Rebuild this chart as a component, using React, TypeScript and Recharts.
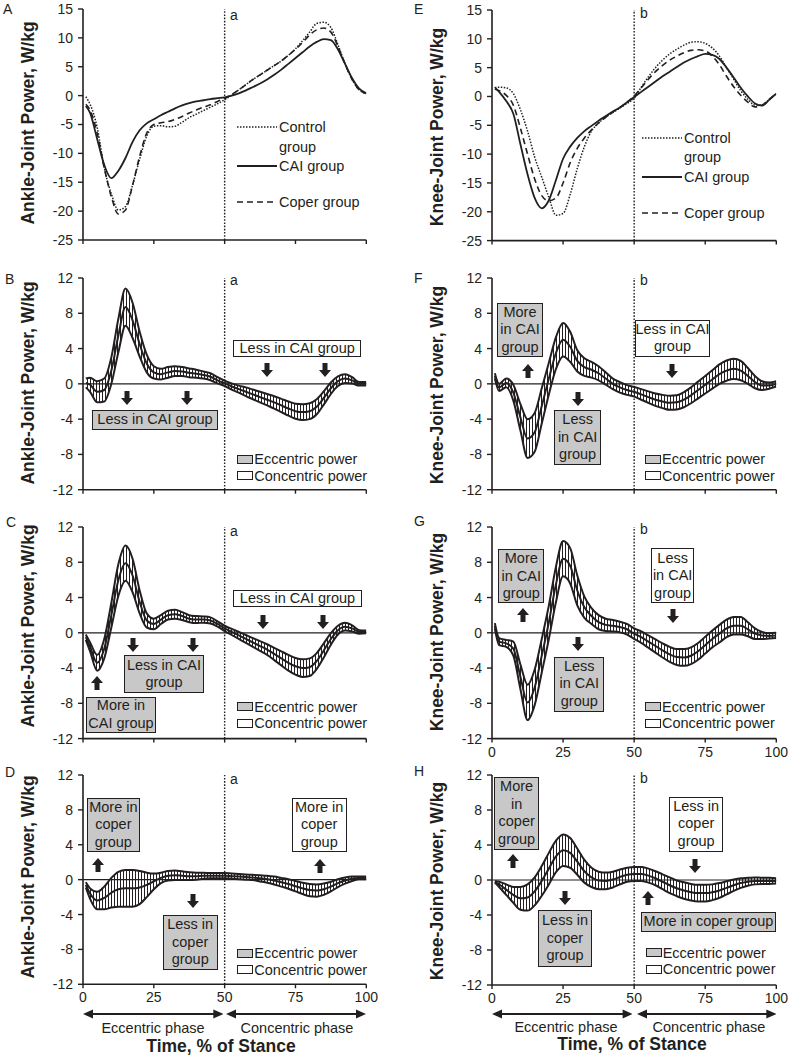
import React from "react"
import { ComposedChart, Line, Area, XAxis, YAxis, ReferenceLine } from "recharts"

// % of stance, shared by every panel
const stance = [1, 2.5, 5, 7.5, 10, 12.5, 15, 17.5, 20, 22.5, 25, 27.5, 30, 32.5, 35, 37.5, 40, 42.5, 45, 47.5, 50, 52.5, 55, 57.5, 60, 62.5, 65, 67.5, 70, 72.5, 75, 77.5, 80, 82.5, 85, 87.5, 90, 92.5, 95, 97.5, 100]
const xTicks = [0, 25, 50, 75, 100]
const wideTicks = [-25, -20, -15, -10, -5, 0, 5, 10, 15]
const diffTicks = [-12, -8, -4, 0, 4, 8, 12]

// A: ankle power by group
const aCtrl = [-0.2, -1.5, -5.5, -12.5, -17, -19.8, -19.2, -15.5, -11, -7, -5.3, -5.2, -5.4, -5.3, -4.6, -3.8, -3.2, -2.6, -2.0, -1.4, -0.7, 0.1, 1.0, 1.9, 2.8, 3.6, 4.4, 5.2, 6.0, 7.0, 8.1, 9.5, 11.0, 12.5, 12.7, 11.8, 8.8, 5.5, 2.8, 1.0, 0.4]
const aCai = [-1.8, -3, -7.5, -12, -14.3, -13, -10.8, -8, -6, -4.8, -4.1, -3.4, -2.8, -2.2, -1.7, -1.3, -1.0, -0.8, -0.6, -0.45, -0.3, 0, 0.4, 0.9, 1.5, 2.1, 2.8, 3.6, 4.5, 5.5, 6.5, 7.5, 8.5, 9.3, 9.8, 9.6, 8.0, 5.5, 3.0, 1.2, 0.4]
const aCoper = [-1.5, -2.5, -6.5, -12.5, -17.5, -20.5, -19.8, -15.5, -10.5, -6.5, -5.0, -4.7, -4.5, -4.1, -3.6, -3.0, -2.5, -2.0, -1.6, -1.0, -0.5, 0.2, 1.0, 1.9, 2.8, 3.6, 4.4, 5.2, 6.0, 7.0, 8.0, 9.2, 10.5, 11.4, 11.7, 11.0, 8.5, 5.5, 2.8, 1.0, 0.4]

// E: knee power by group
const eCtrl = [1.5, 1.6, 1.5, 0.5, -2.3, -6, -10.5, -14, -17.5, -20.6, -20.3, -17, -12.5, -8.7, -6, -4.6, -3.6, -2.8, -2.0, -1.2, -0.3, 1.6, 3.4, 5.0, 6.3, 7.4, 8.2, 8.9, 9.4, 9.5, 9.2, 8.4, 7.0, 5.0, 3.0, 1.0, -0.5, -1.5, -1.5, -0.5, 0.5]
const eCai = [1.6, 0.8, -0.8, -3, -8.3, -13.5, -17.6, -19.4, -18, -14.5, -10.8, -8.7, -7.2, -6.0, -5.1, -4.2, -3.4, -2.6, -1.9, -1.0, -0.1, 0.8, 1.7, 2.6, 3.5, 4.3, 5.1, 5.9, 6.5, 7.0, 7.4, 7.2, 6.5, 5.0, 3.3, 1.5, 0, -1.2, -1.6, -0.6, 0.5]
const eCoper = [1.3, 1.0, 0.2, -1.5, -5.5, -10, -14.3, -17.2, -18.1, -17.6, -15, -11.5, -9, -7.2, -5.8, -4.6, -3.6, -2.7, -1.9, -1.0, 0.1, 1.5, 3.0, 4.3, 5.4, 6.3, 7.0, 7.6, 8.0, 8.1, 7.9, 7.0, 5.5, 3.5, 1.7, 0.2, -1.0, -1.8, -1.5, -0.5, 0.5]

// B-D, F-H: group differences (mean and half band width)
const bMean = [0.1, -0.1, -0.9, -0.7, 1.5, 5.5, 8.7, 7.2, 4.5, 2.3, 1.3, 1.1, 1.3, 1.45, 1.4, 1.25, 1.15, 1.0, 0.8, 0.4, 0.05, -0.3, -0.6, -0.9, -1.2, -1.5, -1.8, -2.1, -2.45, -2.8, -3.1, -3.2, -3.1, -2.6, -1.6, -0.5, 0.3, 0.6, 0.4, 0.0, 0.0]
const bHalf = [0.5, 0.8, 1.2, 1.3, 1.5, 1.9, 2.1, 2.0, 1.4, 1.0, 0.7, 0.6, 0.6, 0.55, 0.5, 0.5, 0.45, 0.4, 0.4, 0.35, 0.3, 0.35, 0.4, 0.5, 0.55, 0.6, 0.65, 0.7, 0.75, 0.8, 0.85, 0.9, 0.9, 0.85, 0.75, 0.65, 0.55, 0.5, 0.35, 0.2, 0.2]
const cMean = [-0.5, -1.6, -3.4, -1.8, 2.0, 6.0, 7.9, 6.5, 3.5, 1.4, 1.0, 1.5, 2.0, 2.1, 1.9, 1.6, 1.5, 1.5, 1.4, 1.0, 0.5, 0.1, -0.3, -0.7, -1.1, -1.5, -1.9, -2.4, -2.9, -3.4, -3.8, -4.0, -3.9, -3.2, -2.0, -0.7, 0.3, 0.7, 0.5, 0.1, 0.1]
const cHalf = [0.3, 0.5, 0.9, 1.1, 1.4, 1.8, 2.0, 1.9, 1.3, 0.8, 0.6, 0.5, 0.5, 0.5, 0.45, 0.4, 0.4, 0.35, 0.35, 0.3, 0.3, 0.35, 0.4, 0.45, 0.5, 0.55, 0.6, 0.7, 0.8, 0.9, 0.95, 1.0, 1.0, 0.9, 0.8, 0.65, 0.5, 0.45, 0.35, 0.2, 0.15]
const dMean = [-0.6, -1.6, -2.4, -2.1, -1.5, -1.1, -1.0, -1.0, -0.9, -0.6, -0.2, 0.2, 0.45, 0.5, 0.45, 0.4, 0.4, 0.45, 0.45, 0.45, 0.45, 0.4, 0.35, 0.3, 0.25, 0.15, 0.05, -0.1, -0.3, -0.5, -0.75, -1.0, -1.2, -1.25, -1.1, -0.8, -0.4, -0.1, 0.1, 0.2, 0.2]
const dHalf = [0.3, 0.6, 1.0, 1.3, 1.7, 2.0, 2.1, 2.1, 1.9, 1.4, 0.9, 0.6, 0.55, 0.55, 0.5, 0.45, 0.4, 0.35, 0.3, 0.3, 0.3, 0.3, 0.3, 0.3, 0.3, 0.35, 0.4, 0.45, 0.5, 0.55, 0.6, 0.65, 0.7, 0.7, 0.65, 0.55, 0.45, 0.35, 0.25, 0.15, 0.15]
const fMean = [0.9, -0.4, 0.1, -1.0, -3.8, -6.2, -5.5, -2.5, 0.6, 3.5, 5.0, 4.2, 2.6, 1.9, 1.6, 1.2, 0.6, 0.0, -0.4, -0.7, -0.9, -1.2, -1.5, -1.8, -2.0, -2.15, -2.1, -1.8, -1.3, -0.7, -0.1, 0.5, 1.1, 1.5, 1.7, 1.5, 0.9, 0.2, -0.2, -0.2, 0.0]
const fHalf = [0.3, 0.4, 0.5, 0.9, 1.5, 2.2, 2.2, 2.0, 1.8, 1.8, 1.9, 1.7, 1.2, 1.0, 0.9, 0.8, 0.7, 0.6, 0.6, 0.55, 0.55, 0.6, 0.65, 0.7, 0.75, 0.8, 0.8, 0.85, 0.9, 0.95, 1.0, 1.05, 1.1, 1.15, 1.15, 1.1, 0.9, 0.7, 0.5, 0.35, 0.3]
const gMean = [0.8, -1.0, -1.2, -1.8, -5.0, -7.9, -6.2, -2.6, 1.2, 5.5, 8.4, 7.6, 4.8, 2.9, 1.9, 1.2, 0.9, 0.8, 0.65, 0.4, -0.1, -0.5, -1.0, -1.5, -2.0, -2.45, -2.75, -2.8, -2.6, -2.1, -1.4, -0.7, -0.1, 0.5, 0.8, 0.8, 0.4, -0.1, -0.3, -0.35, -0.3]
const gHalf = [0.3, 0.4, 0.4, 0.8, 1.4, 2.0, 2.0, 1.9, 1.9, 2.0, 2.0, 2.0, 1.7, 1.2, 0.9, 0.8, 0.7, 0.65, 0.6, 0.6, 0.6, 0.65, 0.7, 0.75, 0.8, 0.85, 0.9, 0.95, 0.95, 0.95, 0.95, 0.95, 1.0, 1.0, 1.0, 1.0, 0.8, 0.6, 0.4, 0.3, 0.3]
const hMean = [-0.2, -0.5, -1.1, -1.7, -2.1, -2.0, -1.3, -0.1, 1.3, 2.7, 3.4, 3.1, 2.1, 1.0, 0.3, -0.05, -0.1, 0.05, 0.35, 0.6, 0.7, 0.7, 0.5, 0.2, -0.2, -0.6, -0.95, -1.2, -1.4, -1.5, -1.5, -1.4, -1.2, -0.9, -0.6, -0.35, -0.2, -0.1, -0.1, -0.1, -0.1]
const hHalf = [0.1, 0.3, 0.6, 0.9, 1.3, 1.5, 1.6, 1.7, 1.8, 1.8, 1.8, 1.7, 1.5, 1.3, 1.1, 1.0, 0.95, 0.9, 0.85, 0.8, 0.8, 0.8, 0.8, 0.8, 0.85, 0.9, 0.9, 0.95, 0.95, 0.95, 0.95, 0.9, 0.85, 0.75, 0.65, 0.55, 0.45, 0.4, 0.35, 0.35, 0.3]

const ink = "#231f20"
const shade = "#c8c8c8"
const Y_W = 60
const X_H = 30
const TOP = 14
const RIGHT = 16

const lineRows = (ctrl: number[], cai: number[], coper: number[]) =>
    stance.map((x, i) => ({ x, ctrl: ctrl[i], cai: cai[i], coper: coper[i] }))

const bandRows = (mean: number[], half: number[]) =>
    stance.map((x, i) => ({
        x,
        mean: mean[i],
        lo: mean[i] - half[i],
        hi: mean[i] + half[i],
        range: [mean[i] - half[i], mean[i] + half[i]],
    }))

const groupLines = () => [
    <Line key="ctrl" type="monotone" dataKey="ctrl" stroke={ink} strokeWidth={1.5} strokeDasharray="1.5 1.5" dot={false} activeDot={false} isAnimationActive={false} />,
    <Line key="coper" type="monotone" dataKey="coper" stroke={ink} strokeWidth={1.6} strokeDasharray="6 4" dot={false} activeDot={false} isAnimationActive={false} />,
    <Line key="cai" type="monotone" dataKey="cai" stroke={ink} strokeWidth={1.8} dot={false} activeDot={false} isAnimationActive={false} />,
]

const bandSeries = () => [
    <Area key="band" type="monotone" dataKey="range" fill="url(#hatch)" fillOpacity={1} stroke="none" dot={false} activeDot={false} isAnimationActive={false} />,
    <ReferenceLine key="zero" y={0} stroke={ink} strokeWidth={1.2} />,
    <Line key="lo" type="monotone" dataKey="lo" stroke={ink} strokeWidth={2} dot={false} activeDot={false} isAnimationActive={false} />,
    <Line key="hi" type="monotone" dataKey="hi" stroke={ink} strokeWidth={2} dot={false} activeDot={false} isAnimationActive={false} />,
    <Line key="mean" type="monotone" dataKey="mean" stroke={ink} strokeWidth={2} dot={false} activeDot={false} isAnimationActive={false} />,
]

type Box = { left: number; top: number; w: number; h: number }

function Plot({ f, rows, wide, xLabels, children }: { f: Box; rows: any[]; wide?: boolean; xLabels?: boolean; children: any }) {
    return (
        <div style={{ position: "absolute", left: f.left - Y_W, top: f.top - TOP }}>
            <ComposedChart width={Y_W + f.w + RIGHT} height={TOP + f.h + X_H} data={rows} margin={{ top: TOP, right: RIGHT, bottom: 0, left: 0 }}>
                <XAxis
                    type="number"
                    dataKey="x"
                    domain={[0, 100]}
                    ticks={xTicks}
                    interval={0}
                    height={X_H}
                    tickSize={4}
                    tickMargin={4}
                    axisLine={{ stroke: ink, strokeWidth: 1.6 }}
                    tickLine={{ stroke: ink, strokeWidth: 1.4 }}
                    tick={{ fill: ink, fontSize: 14 }}
                    tickFormatter={(v: number) => (xLabels ? String(v) : "")}
                    allowDataOverflow
                />
                <YAxis
                    type="number"
                    domain={wide ? [-25, 15] : [-12, 12]}
                    ticks={wide ? wideTicks : diffTicks}
                    interval={0}
                    width={Y_W}
                    tickSize={5}
                    tickMargin={5}
                    axisLine={{ stroke: ink, strokeWidth: 1.6 }}
                    tickLine={{ stroke: ink, strokeWidth: 1.4 }}
                    tick={{ fill: ink, fontSize: 14 }}
                    allowDataOverflow
                />
                <ReferenceLine x={50} stroke={ink} strokeWidth={1.4} strokeDasharray="1.6 1.6" />
                {children}
            </ComposedChart>
        </div>
    )
}

const Txt = ({ x, y, size = 14, bold = false, center = false, children }: any) => (
    <div
        style={{
            position: "absolute",
            left: x,
            top: y,
            transform: center ? "translate(-50%, -50%)" : "translateY(-50%)",
            fontSize: size,
            fontWeight: bold ? 700 : 400,
            lineHeight: 1,
            whiteSpace: "nowrap",
        }}
    >
        {children}
    </div>
)

const YTitle = ({ x, y, children }: any) => (
    <div
        style={{
            position: "absolute",
            left: x,
            top: y,
            transform: "translate(-50%, -50%) rotate(-90deg)",
            fontSize: 17.5,
            fontWeight: 700,
            lineHeight: 1,
            whiteSpace: "nowrap",
        }}
    >
        {children}
    </div>
)

const Note = ({ x1, y1, x2, y2, gray, lines }: any) => (
    <div
        style={{
            position: "absolute",
            left: x1,
            top: y1,
            width: x2 - x1,
            height: y2 - y1,
            boxSizing: "border-box",
            border: `1.5px solid ${ink}`,
            background: gray ? shade : "#fff",
            display: "flex",
            flexDirection: "column",
            justifyContent: "center",
            alignItems: "center",
            fontSize: 14.5,
            lineHeight: "17.5px",
            whiteSpace: "nowrap",
        }}
    >
        {lines.map((l: string, i: number) => (
            <span key={i}>{l}</span>
        ))}
    </div>
)

const Arrow = ({ x, y, up }: any) => (
    <svg style={{ position: "absolute", left: x - 6, top: y }} width={12} height={14}>
        <polygon
            points={up ? "6,0 12,7 8.5,7 8.5,14 3.5,14 3.5,7 0,7" : "3.5,0 8.5,0 8.5,7 12,7 6,14 0,7 3.5,7"}
            fill={ink}
        />
    </svg>
)

const Key = ({ x, y, gray, label }: any) => (
    <>
        <div
            style={{
                position: "absolute",
                left: x,
                top: y - 4.5,
                width: 16,
                height: 9,
                boxSizing: "border-box",
                border: `1.5px solid ${ink}`,
                background: gray ? shade : "#fff",
            }}
        />
        <Txt x={x + 17} y={y} size={14.5}>
            {label}
        </Txt>
    </>
)

const Keys = ({ x, y }: any) => (
    <>
        <Key x={x} y={y} gray label="Eccentric power" />
        <Key x={x} y={y + 16.5} label="Concentric power" />
    </>
)

const Stroke = ({ x, y, dash, width }: any) => (
    <svg style={{ position: "absolute", left: x, top: y - 2 }} width={40} height={4}>
        <line x1={0} y1={2} x2={40} y2={2} stroke={ink} strokeWidth={width} strokeDasharray={dash} />
    </svg>
)

const GroupKey = ({ x, y }: any) => (
    <>
        <Stroke x={x} y={y} dash="1.5 1.5" width={1.5} />
        <Txt x={x + 42} y={y} size={14.5}>Control</Txt>
        <Txt x={x + 42} y={y + 19.5} size={14.5}>group</Txt>
        <Stroke x={x} y={y + 39} width={1.8} />
        <Txt x={x + 42} y={y + 39} size={14.5}>CAI group</Txt>
        <Stroke x={x} y={y + 75} dash="6 4" width={1.6} />
        <Txt x={x + 42} y={y + 75} size={14.5}>Coper group</Txt>
    </>
)

const Span = ({ x1, x2, y }: any) => {
    const w = x2 - x1
    return (
        <svg style={{ position: "absolute", left: x1, top: y - 5 }} width={w} height={10}>
            <line x1={8} y1={5} x2={w - 8} y2={5} stroke={ink} strokeWidth={2} />
            <polygon points={`0,5 10,0.5 10,9.5`} fill={ink} />
            <polygon points={`${w},5 ${w - 10},0.5 ${w - 10},9.5`} fill={ink} />
        </svg>
    )
}

const L = 82.7
const R = 491.7
const LW = 283.3
const RW = 284.3

export default function App() {
    const ankleTitle = "Ankle-Joint Power, W/kg"
    const kneeTitle = "Knee-Joint Power, W/kg"
    return (
        <div
            style={{
                position: "absolute",
                left: 0,
                top: 0,
                width: 790,
                height: 1055,
                background: "#fff",
                color: ink,
                fontFamily: '"Liberation Sans", Arial, Helvetica, sans-serif',
                overflow: "hidden",
            }}
        >
            <svg width={0} height={0} style={{ position: "absolute" }}>
                <defs>
                    <pattern id="hatch" width={3} height={10} patternUnits="userSpaceOnUse">
                        <line x1={1.5} y1={0} x2={1.5} y2={10} stroke={ink} strokeWidth={1} />
                    </pattern>
                </defs>
            </svg>

            {/* left column: ankle */}
            <Plot f={{ left: L, top: 9, w: LW, h: 231 }} rows={lineRows(aCtrl, aCai, aCoper)} wide>
                {groupLines()}
            </Plot>
            <Plot f={{ left: L, top: 278.3, w: LW, h: 211.7 }} rows={bandRows(bMean, bHalf)}>
                {bandSeries()}
            </Plot>
            <Plot f={{ left: L, top: 526.7, w: LW, h: 211.6 }} rows={bandRows(cMean, cHalf)}>
                {bandSeries()}
            </Plot>
            <Plot f={{ left: L, top: 775, w: LW, h: 209.3 }} rows={bandRows(dMean, dHalf)} xLabels>
                {bandSeries()}
            </Plot>

            {/* right column: knee */}
            <Plot f={{ left: R, top: 10, w: RW, h: 230.6 }} rows={lineRows(eCtrl, eCai, eCoper)} wide>
                {groupLines()}
            </Plot>
            <Plot f={{ left: R, top: 278.3, w: RW, h: 211.7 }} rows={bandRows(fMean, fHalf)}>
                {bandSeries()}
            </Plot>
            <Plot f={{ left: R, top: 526.7, w: RW, h: 211.6 }} rows={bandRows(gMean, gHalf)} xLabels>
                {bandSeries()}
            </Plot>
            <Plot f={{ left: R, top: 775, w: RW, h: 210 }} rows={bandRows(hMean, hHalf)} xLabels>
                {bandSeries()}
            </Plot>

            {/* panel letters and phase marks */}
            <Txt x={3} y={9}>A</Txt>
            <Txt x={5} y={279}>B</Txt>
            <Txt x={6} y={522}>C</Txt>
            <Txt x={5} y={772}>D</Txt>
            <Txt x={414} y={9}>E</Txt>
            <Txt x={414} y={278}>F</Txt>
            <Txt x={414} y={521}>G</Txt>
            <Txt x={414} y={771}>H</Txt>
            <Txt x={230} y={14.5}>a</Txt>
            <Txt x={230} y={280}>a</Txt>
            <Txt x={230} y={531}>a</Txt>
            <Txt x={230} y={779}>a</Txt>
            <Txt x={640} y={13}>b</Txt>
            <Txt x={640} y={280}>b</Txt>
            <Txt x={640} y={529}>b</Txt>
            <Txt x={640} y={778}>b</Txt>

            <YTitle x={29} y={123}>{ankleTitle}</YTitle>
            <YTitle x={29} y={383}>{ankleTitle}</YTitle>
            <YTitle x={29} y={626}>{ankleTitle}</YTitle>
            <YTitle x={29} y={877}>{ankleTitle}</YTitle>
            <YTitle x={438} y={127}>{kneeTitle}</YTitle>
            <YTitle x={438} y={385}>{kneeTitle}</YTitle>
            <YTitle x={438} y={632}>{kneeTitle}</YTitle>
            <YTitle x={438} y={881}>{kneeTitle}</YTitle>

            <GroupKey x={237} y={127} />
            <GroupKey x={642} y={137.5} />

            {/* B */}
            <Note x1={233.3} y1={340} x2={361} y2={357} lines={["Less in CAI group"]} />
            <Arrow x={266.7} y={363} />
            <Arrow x={325} y={363} />
            <Arrow x={126.7} y={391} />
            <Arrow x={186.7} y={391} />
            <Note x1={91.7} y1={410} x2={218.3} y2={430} gray lines={["Less in CAI group"]} />
            <Keys x={237.3} y={459} />

            {/* C */}
            <Note x1={233.3} y1={590} x2={361.7} y2={607} lines={["Less in CAI group"]} />
            <Arrow x={263.3} y={615} />
            <Arrow x={323.3} y={615} />
            <Arrow x={133.3} y={638} />
            <Arrow x={193.3} y={638} />
            <Note x1={124} y1={655} x2={204} y2={693.3} gray lines={["Less in CAI", "group"]} />
            <Arrow x={96.7} y={676} up />
            <Note x1={86} y1={696.7} x2={156} y2={732.7} gray lines={["More in", "CAI group"]} />
            <Keys x={237.3} y={706.7} />

            {/* D */}
            <Note x1={86.7} y1={798.3} x2={140} y2={851.7} gray lines={["More in", "coper", "group"]} />
            <Arrow x={97.7} y={858} up />
            <Arrow x={193.3} y={894} />
            <Note x1={162.7} y1={915} x2={217.7} y2={970} gray lines={["Less in", "coper", "group"]} />
            <Note x1={291.7} y1={798.3} x2={346.7} y2={851.7} lines={["More in", "coper", "group"]} />
            <Arrow x={320} y={859} up />
            <Keys x={237.3} y={953.3} />

            {/* F */}
            <Note x1={496.7} y1={303.3} x2={543.3} y2={356.7} gray lines={["More", "in CAI", "group"]} />
            <Arrow x={528.3} y={364} up />
            <Arrow x={578.3} y={392} />
            <Note x1={554.3} y1={410} x2={601} y2={465} gray lines={["Less", "in CAI", "group"]} />
            <Note x1={635} y1={320} x2={710} y2={356.7} lines={["Less in CAI", "group"]} />
            <Arrow x={671.7} y={364} />
            <Keys x={645} y={459} />

            {/* G */}
            <Note x1={498.3} y1={549.3} x2={544.3} y2={603.3} gray lines={["More", "in CAI", "group"]} />
            <Arrow x={523.3} y={608} up />
            <Arrow x={578.3} y={637} />
            <Note x1={554.3} y1={656.7} x2={604.3} y2={711.7} gray lines={["Less", "in CAI", "group"]} />
            <Note x1={651} y1={548.3} x2={694.3} y2={603.3} lines={["Less", "in CAI", "group"]} />
            <Arrow x={672.7} y={609} />
            <Keys x={645} y={706.7} />

            {/* H */}
            <Note x1={494.3} y1={776.7} x2={539} y2={850} gray lines={["More", "in", "coper", "group"]} />
            <Arrow x={513.3} y={854} up />
            <Arrow x={565} y={891} />
            <Note x1={537.7} y1={910} x2={592.3} y2={966.7} gray lines={["Less in", "coper", "group"]} />
            <Note x1={669} y1={796.7} x2={723.3} y2={851.7} lines={["Less in", "coper", "group"]} />
            <Arrow x={695} y={859} />
            <Arrow x={648.3} y={891} up />
            <Note x1={641} y1={911.7} x2={776} y2={931.7} gray lines={["More in coper group"]} />
            <Keys x={645.7} y={952.7} />

            {/* phase arrows and axis titles */}
            <Span x1={82.7} x2={223} y={1014} />
            <Span x1={226} x2={366} y={1014} />
            <Span x1={491.7} x2={632.3} y={1014} />
            <Span x1={636.7} x2={776} y={1014} />
            <Txt x={153} y={1028} size={14.5} center>Eccentric phase</Txt>
            <Txt x={297} y={1028} size={14.5} center>Concentric phase</Txt>
            <Txt x={566} y={1027} size={14.5} center>Eccentric phase</Txt>
            <Txt x={709} y={1027} size={14.5} center>Concentric phase</Txt>
            <Txt x={221} y={1046.5} size={17.5} bold center>Time, % of Stance</Txt>
            <Txt x={632} y={1045} size={17.5} bold center>Time, % of Stance</Txt>
        </div>
    )
}
